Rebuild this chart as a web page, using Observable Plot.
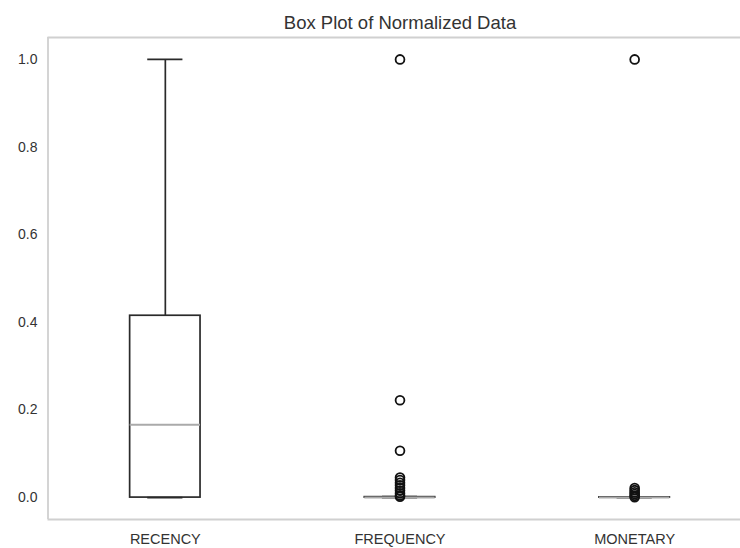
<!DOCTYPE html>
<html>
<head>
<meta charset="utf-8">
<script src="https://cdn.jsdelivr.net/npm/d3@7"></script>
<script src="https://cdn.jsdelivr.net/npm/@observablehq/plot@0.6"></script>
<style>
  html, body { margin: 0; padding: 0; background: #fff; }
  #chart svg { display: block; }
</style>
</head>
<body>
<div id="chart"></div>
<script>
const title = "Box Plot of Normalized Data";
const categories = ["RECENCY", "FREQUENCY", "MONETARY"];
const q1 = [0.0, 0.0, 0.0];
const median = [0.166, 0.0, 0.0];
const q3 = [0.415, 0.001, 0.0005];
const whiskerLow = [0.0, 0.0, 0.0];
const whiskerHigh = [1.0, 0.002, 0.001];
const frequencyOutliers = [1.0, 0.222, 0.107, 0.046, 0.040, 0.034, 0.028, 0.022, 0.016, 0.010, 0.005, 0.002];
const monetaryOutliers = [1.0, 0.022, 0.017, 0.012, 0.008, 0.004, 0.001];
const yTicks = [0.0, 0.2, 0.4, 0.6, 0.8, 1.0];

const stats = categories.map((c, i) => ({
  pos: i + 1, q1: q1[i], median: median[i], q3: q3[i], lo: whiskerLow[i], hi: whiskerHigh[i]
}));
const outliers = [
  ...frequencyOutliers.map(v => ({pos: 2, v})),
  ...monetaryOutliers.map(v => ({pos: 3, v}))
];
const halfBox = 0.15, halfCap = 0.075;
const yDomain = [-0.05, 1.05];
const xDomain = [0.5, 3.5];

const chart = Plot.plot({
  width: 740,
  height: 548,
  marginTop: 37,
  marginBottom: 29,
  marginLeft: 47,
  marginRight: 0,
  style: {fontFamily: "'Liberation Sans', Arial, sans-serif", color: "#333", background: "#fff"},
  x: {domain: xDomain, range: [47.5, 751.5], ticks: [1, 2, 3], tickFormat: d => categories[d - 1], tickSize: 0, tickPadding: 14, label: null},
  y: {domain: yDomain, ticks: yTicks, tickFormat: d3.format(".1f"), tickSize: 0, tickPadding: 10, label: null},
  marks: [
    Plot.ruleX([xDomain[0]], {y1: yDomain[0], y2: yDomain[1], stroke: "#d0d0d0", strokeWidth: 1.8}),
    Plot.ruleY(yDomain, {x1: xDomain[0], x2: xDomain[1], stroke: "#d0d0d0", strokeWidth: 1.8}),
    Plot.ruleX(stats, {x: "pos", y1: "q3", y2: "hi", stroke: "#2a2a2a", strokeWidth: 1.7}),
    Plot.ruleX(stats, {x: "pos", y1: "lo", y2: "q1", stroke: "#2a2a2a", strokeWidth: 1.7}),
    Plot.ruleY(stats, {y: "hi", x1: d => d.pos - halfCap, x2: d => d.pos + halfCap, stroke: "#2a2a2a", strokeWidth: 1.7}),
    Plot.ruleY(stats, {y: "lo", x1: d => d.pos - halfCap, x2: d => d.pos + halfCap, stroke: "#2a2a2a", strokeWidth: 1.7}),
    Plot.rect(stats, {x1: d => d.pos - halfBox, x2: d => d.pos + halfBox, y1: "q1", y2: "q3", fill: "none", stroke: "#2a2a2a", strokeWidth: 1.7}),
    Plot.ruleY(stats, {y: "median", x1: d => d.pos - halfBox, x2: d => d.pos + halfBox, stroke: "#aaaaaa", strokeWidth: 2}),
    Plot.dot(outliers, {x: "pos", y: "v", r: 4.4, stroke: "#111", strokeWidth: 1.8, fill: "none"}),
    Plot.text([title], {x: [2], frameAnchor: "top", dy: -22, text: d => d, fontSize: 18.5, fill: "#333", textAnchor: "middle"})
  ]
});
chart.querySelectorAll("g[aria-label='y-axis tick label']").forEach(e => e.setAttribute("font-size", 14));
chart.querySelectorAll("g[aria-label='x-axis tick label']").forEach(e => e.setAttribute("font-size", 14.5));
document.getElementById("chart").appendChild(chart);
</script>
</body>
</html>
